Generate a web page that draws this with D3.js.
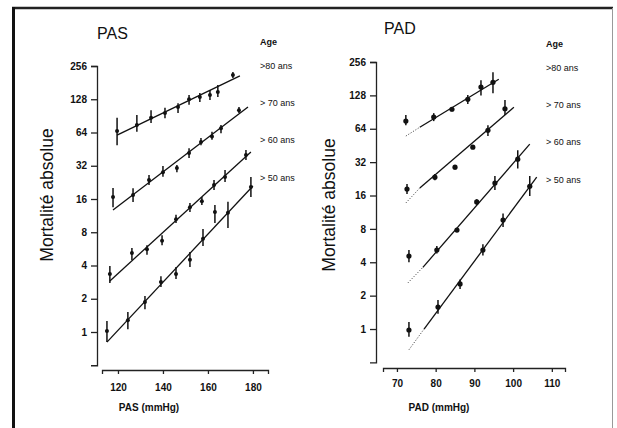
<!DOCTYPE html>
<html>
<head>
<meta charset="utf-8">
<script src="https://cdn.jsdelivr.net/npm/d3@7"></script>
<style>
  body { margin: 0; background: #fff; }
  text { font-family: "Liberation Sans", Arial, sans-serif; fill: #111; }
</style>
</head>
<body>
<svg id="chart" width="617" height="428"></svg>
<script>
// values: [pressure, mortality, bar low, bar high]
const ageGroups = [">80 ans", "> 70 ans", "> 60 ans", "> 50 ans"];
const mortalityTicks = [1, 2, 4, 8, 16, 32, 64, 128, 256];
const pasTicks = [120, 140, 160, 180];
const padTicks = [70, 80, 90, 100, 110];

const pas80 = [
  [119.6, 66, 49, 87], [128.4, 75, 65, 92], [134.7, 87, 78, 102],
  [140.9, 96, 86, 107], [146.7, 109, 96, 118], [151.6, 128, 114, 140],
  [156.4, 134, 121, 146], [160.9, 140, 126, 155], [164.4, 149, 134, 172],
  [171.1, 212, 199, 226]
];
const pas70 = [
  [117.8, 16.7, 13.5, 20.1], [126.7, 17.4, 15, 20], [133.8, 23.8, 21.4, 26.4],
  [140.0, 28, 25.5, 31.8], [146.2, 30.5, 28, 32.5], [151.6, 41.7, 37.6, 46],
  [156.9, 52.5, 49, 57], [161.8, 59, 55, 65], [165.8, 70, 63, 75],
  [173.8, 102, 96, 109]
];
const pas60 = [
  [116.4, 3.35, 2.78, 3.96], [126.2, 5.2, 4.49, 5.76], [132.9, 5.6, 5.0, 6.1],
  [139.6, 6.7, 6.1, 7.5], [145.8, 10.5, 9.7, 11.5], [152.0, 13.5, 12.2, 14.7],
  [157.3, 15.3, 14.1, 16.7], [162.7, 21.4, 19.3, 23.8], [167.6, 25.3, 22.8, 29.3],
  [176.9, 40, 36, 44.4]
];
const pas50 = [
  [115.1, 1.02, 0.81, 1.26], [124.4, 1.28, 1.06, 1.52], [132.0, 1.87, 1.61, 2.12],
  [139.1, 2.83, 2.55, 3.2], [145.8, 3.35, 3.02, 3.88], [152.0, 4.5, 3.88, 5.3],
  [157.8, 7.0, 6.0, 8.57], [163.1, 12.2, 9.7, 14.1], [168.9, 12, 8.75, 15.1],
  [179.1, 20.5, 16.7, 25.3]
];
// regression lines: [start], [end]
const pasFit80 = [[119.6, 60.7], [174.2, 208]];
const pasFit70 = [[117.8, 12.7], [177.8, 109]];
const pasFit60 = [[116.4, 2.9], [179.1, 42.6]];
const pasFit50 = [[115.1, 0.81], [180, 21]];

const pad80 = [
  [72.3, 75, 69, 85], [79.5, 81.5, 75, 88.5], [84.2, 96, 92, 100],
  [88.3, 118, 107, 129], [91.7, 152, 128, 175], [94.8, 168, 134, 207]
];
const pad70 = [
  [72.6, 18.3, 16.5, 20.3], [79.8, 23.4, 22, 25], [85.0, 28.8, 27.5, 30],
  [89.6, 43.7, 42, 45.5], [93.5, 62, 55, 69], [97.9, 97, 85, 116]
];
const pad60 = [
  [73.1, 4.55, 4.0, 5.16], [80.3, 5.16, 4.8, 5.6], [85.5, 7.8, 7.5, 8.1],
  [90.6, 14, 13.2, 14.8], [95.3, 20.7, 17.9, 24], [101.2, 34, 28, 41]
];
const pad50 = [
  [73.1, 0.98, 0.85, 1.16], [80.6, 1.58, 1.37, 1.83], [86.3, 2.55, 2.3, 2.8],
  [92.2, 5.15, 4.6, 5.8], [97.4, 9.6, 8.3, 11], [104.3, 19.4, 15.8, 24]
];
// regression lines: [dotted start], [solid start], [end]
const padFit80 = [[72.3, 55], [75.9, 66], [96.3, 179]];
const padFit70 = [[72.3, 13.7], [75.9, 18.7], [100.2, 100]];
const padFit60 = [[72.8, 2.6], [76.7, 3.6], [104.3, 46.5]];
const padFit50 = [[73.1, 0.65], [77.0, 1.0], [106.1, 23.4]];

const svg = d3.select("#chart");

// frame of the scanned figure
svg.append("line").attr("x1", 12).attr("y1", 8).attr("x2", 613).attr("y2", 8)
  .attr("stroke", "#222").attr("stroke-width", 2.5);
svg.append("line").attr("x1", 13.5).attr("y1", 7).attr("x2", 13.5).attr("y2", 428)
  .attr("stroke", "#111").attr("stroke-width", 3);
svg.append("line").attr("x1", 612.5).attr("y1", 8).attr("x2", 612.5).attr("y2", 428)
  .attr("stroke", "#999").attr("stroke-width", 1);

function drawPanel(p) {
  const x = d3.scaleLinear().domain(p.xDomain).range(p.xRange);
  const y = d3.scaleLog().base(2).domain([0.5, 256]).range(p.yRange);

  // y axis
  const gy = svg.append("g")
    .attr("transform", "translate(" + p.yAxisX + ",0)")
    .call(d3.axisLeft(y).tickValues(mortalityTicks).tickFormat(d3.format("d"))
      .tickSize(6).tickSizeOuter(6).tickPadding(4));
  gy.selectAll("text").style("font-size", "10px").style("font-weight", "bold")
    .attr("font-family", null);
  gy.selectAll("path, line").attr("stroke", "#222").attr("stroke-width", 1.3);

  // x axis
  const gx = svg.append("g")
    .attr("transform", "translate(0," + p.xAxisY + ")")
    .call(d3.axisBottom(x).tickValues(p.xTicks).tickSize(4).tickSizeOuter(4)
      .tickPadding(p.xPad));
  gx.selectAll("text").style("font-size", "10px").style("font-weight", "bold");
  gx.selectAll("path, line").attr("stroke", "#222").attr("stroke-width", 1.3);

  // regression lines
  p.fits.forEach((fit) => {
    if (fit.length === 3) {
      svg.append("line")
        .attr("x1", x(fit[0][0])).attr("y1", y(fit[0][1]))
        .attr("x2", x(fit[1][0])).attr("y2", y(fit[1][1]))
        .attr("stroke", "#555").attr("stroke-width", 1)
        .attr("stroke-dasharray", "1.2,1.6");
    }
    const a = fit[fit.length - 2], b = fit[fit.length - 1];
    svg.append("line")
      .attr("x1", x(a[0])).attr("y1", y(a[1]))
      .attr("x2", x(b[0])).attr("y2", y(b[1]))
      .attr("stroke", "#111").attr("stroke-width", 1.3);
  });

  // error bars and points
  p.series.forEach((s) => {
    const g = svg.append("g");
    g.selectAll("line").data(s).enter().append("line")
      .attr("x1", (d) => x(d[0])).attr("x2", (d) => x(d[0]))
      .attr("y1", (d) => y(d[2])).attr("y2", (d) => y(d[3]))
      .attr("stroke", "#111").attr("stroke-width", 1.5);
    g.selectAll("circle").data(s).enter().append("circle")
      .attr("cx", (d) => x(d[0])).attr("cy", (d) => y(d[1]))
      .attr("r", p.dotR).attr("fill", "#111");
  });

  // titles and legend
  svg.append("text").attr("x", p.titleX).attr("y", p.titleY)
    .style("font-size", "16px").text(p.title);
  svg.append("text").attr("x", p.legendX).attr("y", p.ageY)
    .style("font-size", "9px").style("font-weight", "bold").text("Age");
  ageGroups.forEach((label, i) => {
    svg.append("text").attr("x", p.legendX).attr("y", p.legendY[i])
      .style("font-size", "9px").text(label);
  });
  svg.append("text")
    .attr("transform", "translate(" + p.yTitleX + "," + p.yTitleY + ") rotate(-90)")
    .attr("text-anchor", "middle").style("font-size", "17.5px")
    .text("Mortalité absolue");
  svg.append("text").attr("x", p.xTitleX).attr("y", 410.5)
    .attr("text-anchor", "middle").style("font-size", "10px")
    .style("font-weight", "bold").text(p.xTitle);
}

drawPanel({
  title: "PAS", titleX: 97, titleY: 39,
  xTitle: "PAS (mmHg)", xTitleX: 149,
  xDomain: [112.9, 186.7], xRange: [102, 268], xTicks: pasTicks, xAxisY: 370, xPad: 10,
  yRange: [365.25, 66], yAxisX: 97,
  yTitleX: 53, yTitleY: 195,
  legendX: 260, ageY: 45, legendY: [69, 106, 143, 181],
  series: [pas80, pas70, pas60, pas50],
  fits: [pasFit80, pasFit70, pasFit60, pasFit50],
  dotR: 2
});

drawPanel({
  title: "PAD", titleX: 384, titleY: 34,
  xTitle: "PAD (mmHg)", xTitleX: 439,
  xDomain: [66.4, 113.4], xRange: [383, 565], xTicks: padTicks, xAxisY: 368, xPad: 8,
  yRange: [362.4, 62], yAxisX: 376,
  yTitleX: 335, yTitleY: 205,
  legendX: 546, ageY: 47, legendY: [71, 108, 145, 183],
  series: [pad80, pad70, pad60, pad50],
  fits: [padFit80, padFit70, padFit60, padFit50],
  dotR: 2.6
});
</script>
</body>
</html>
